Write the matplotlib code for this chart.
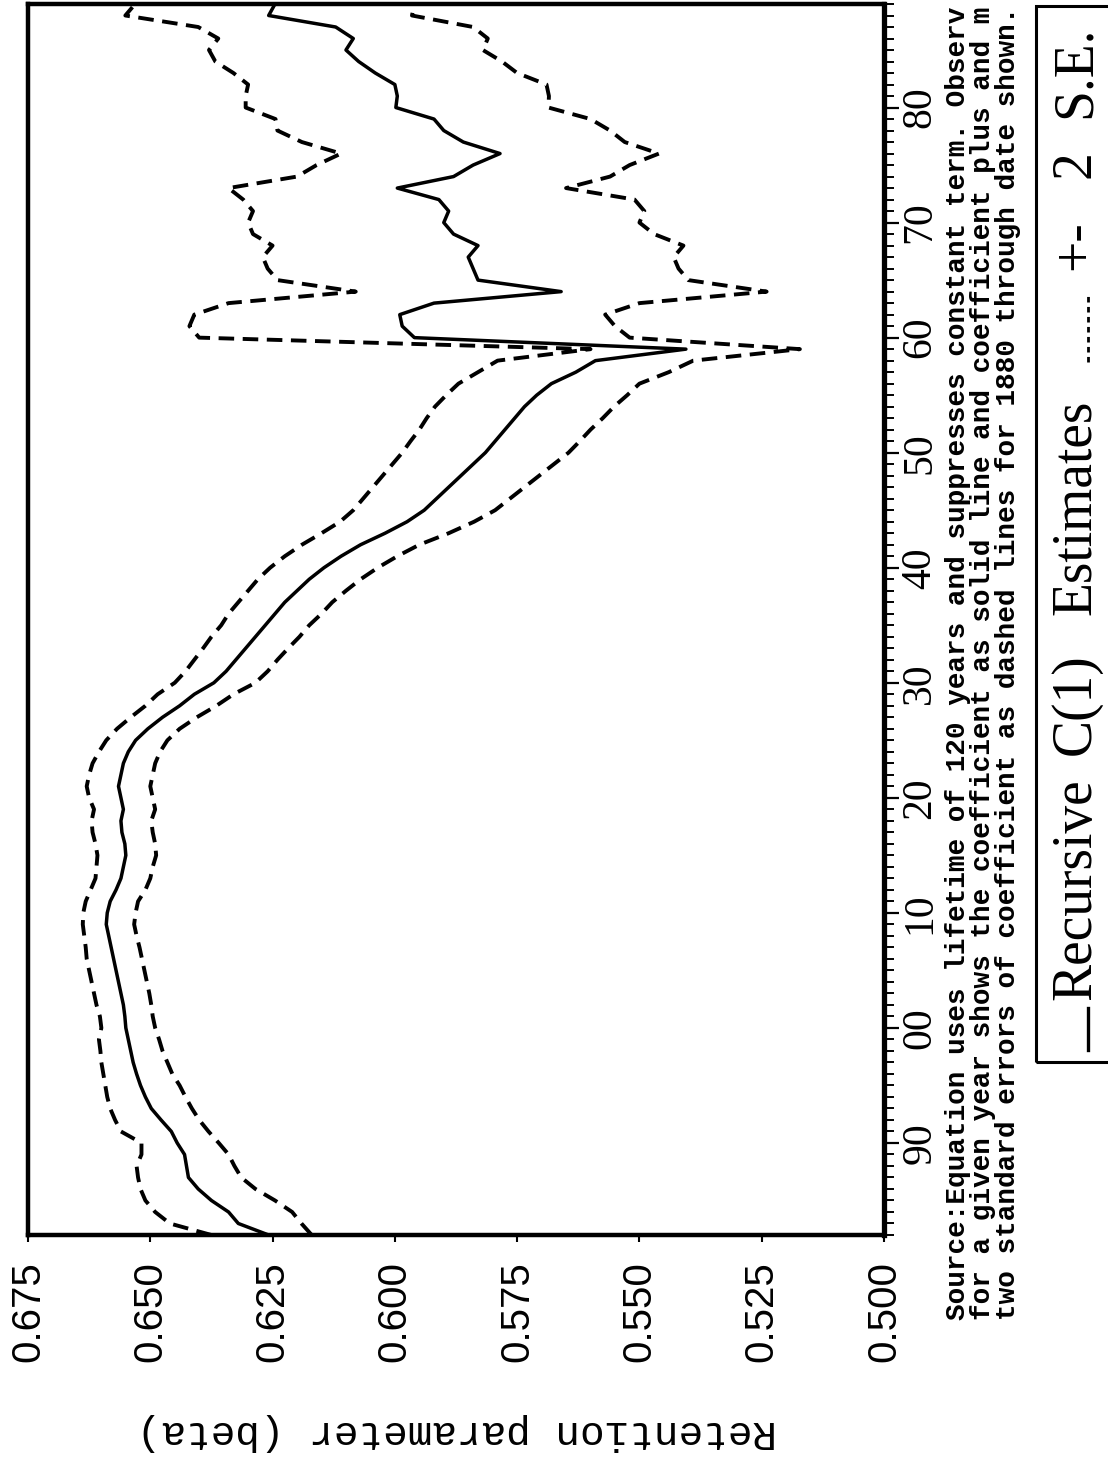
import numpy as np
import matplotlib.pyplot as plt
from matplotlib.lines import Line2D
from matplotlib.patches import Rectangle
from matplotlib.ticker import MultipleLocator

# recursive estimates of the retention parameter, one value per year
years = list(range(1882, 1990))

beta = [
    .6258, .6320, .6340, .6375, .6402, .6422, .6426, .6430, .6445, .6457,  # 1882-91
    .6478, .6498, .6510, .6520, .6528, .6535, .6540, .6545, .6550, .6552,  # 1892-01
    .6555, .6560, .6565, .6570, .6575, .6580, .6585, .6590, .6588, .6582,  # 1902-11
    .6570, .6560, .6555, .6550, .6552, .6558, .6560, .6555, .6560, .6565,  # 1912-21
    .6560, .6555, .6545, .6530, .6505, .6475, .6440, .6410, .6370, .6345,  # 1922-31
    .6325, .6305, .6285, .6265, .6245, .6225, .6200, .6175, .6145, .6110,  # 1932-41
    .6070, .6020, .5975, .5940, .5915, .5890, .5865, .5840, .5815, .5795,  # 1942-51
    .5775, .5755, .5735, .5710, .5680, .5630, .5590, .5405, .5960, .5985,  # 1952-61
    .5990, .5920, .5660, .5830, .5840, .5850, .5830, .5880, .5900, .5890,  # 1962-71
    .5910, .5995, .5880, .5840, .5785, .5860, .5900, .5920, .5998, .5995,  # 1972-81
    .6000, .6040, .6074, .6100, .6085, .6121, .6258, .6245,                # 1982-89
]

beta_hi = [
    .6375, .6460, .6490, .6510, .6520, .6525, .6528, .6518, .6518, .6560,
    .6572, .6582, .6588, .6592, .6596, .6600, .6602, .6605, .6600, .6603,
    .6610, .6615, .6620, .6625, .6630, .6632, .6635, .6638, .6637, .6632,
    .6622, .6612, .6610, .6608, .6612, .6618, .6620, .6615, .6625, .6630,
    .6625, .6618, .6605, .6590, .6568, .6540, .6510, .6485, .6450, .6428,
    .6410, .6392, .6375, .6355, .6340, .6320, .6300, .6280, .6255, .6225,
    .6190, .6150, .6112, .6085, .6065, .6045, .6025, .6005, .5985, .5968,
    .5950, .5935, .5918, .5895, .5870, .5830, .5790, .5600, .6400, .6420,
    .6410, .6340, .6080, .6240, .6260, .6270, .6250, .6290, .6300, .6290,
    .6310, .6340, .6200, .6160, .6110, .6190, .6240, .6244, .6305, .6305,
    .6300, .6330, .6367, .6380, .6361, .6402, .6551, .6531,
]

beta_lo = [
    .6170, .6191, .6210, .6245, .6285, .6314, .6328, .6340, .6360, .6381,
    .6400, .6415, .6428, .6440, .6455, .6465, .6475, .6482, .6490, .6495,
    .6498, .6502, .6507, .6512, .6517, .6522, .6528, .6533, .6530, .6525,
    .6510, .6500, .6495, .6488, .6490, .6495, .6498, .6490, .6495, .6500,
    .6495, .6490, .6480, .6465, .6440, .6405, .6365, .6330, .6285, .6260,
    .6240, .6218, .6195, .6175, .6150, .6128, .6100, .6070, .6035, .5995,
    .5950, .5890, .5838, .5795, .5765, .5735, .5705, .5675, .5645, .5622,
    .5600, .5575, .5552, .5525, .5500, .5440, .5390, .5172, .5520, .5550,
    .5570, .5500, .5240, .5400, .5420, .5430, .5410, .5470, .5500, .5490,
    .5510, .5650, .5560, .5520, .5460, .5530, .5560, .5600, .5686, .5685,
    .5690, .5750, .5781, .5820, .5810, .5840, .5965, .5960,
]

val_ticks = [0.675, 0.650, 0.625, 0.600, 0.575, 0.550, 0.525, 0.500]
val_labels = ['0.675', '0.650', '0.625', '0.600', '0.575', '0.550', '0.525', '0.500']
year_ticks = [1890, 1900, 1910, 1920, 1930, 1940, 1950, 1960, 1970, 1980]
year_labels = ['90', '00', '10', '20', '30', '40', '50', '60', '70', '80']

# the footnote runs off the top of the page
source_lines = [
    "Source:Equation uses lifetime of 120 years and suppresses constant term. Observ",
    "for a given year shows the coefficient as solid line and coefficient plus and m",
    "two standard errors of coefficient as dashed lines for 1880 through date shown.",
]

W, H = 1108, 1473
fig = plt.figure(figsize=(W / 100, H / 100), dpi=100)


def fx(px):
    return px / W


def fy(py):
    return 1 - py / H


# page is turned on its side: beta runs across, years run up
ax = fig.add_axes([fx(28), fy(1235), fx(884) - fx(28), fy(4) - fy(1235)])
dash = (0, (4, 2.2))
ax.plot(beta, years, color='black', lw=2.5)
ax.plot(beta_hi, years, color='black', lw=2.8, ls=dash)
ax.plot(beta_lo, years, color='black', lw=2.8, ls=dash)

ax.set_xlim(0.675, 0.500)
ax.set_ylim(1882, 1989)

for side in ['left', 'top', 'bottom']:
    ax.spines[side].set_linewidth(3.2)
ax.spines['right'].set_linewidth(3.8)

ax.set_xticks(val_ticks)
ax.set_xticklabels(val_labels, rotation=90, fontsize=29, family='Liberation Sans')
ax.tick_params(axis='x', direction='out', length=5, width=1.5, pad=14)

ax.yaxis.tick_right()
ax.set_yticks(year_ticks)
ax.set_yticklabels(year_labels, rotation=90, va='center', fontsize=30,
                   family='Liberation Serif')
ax.yaxis.set_minor_locator(MultipleLocator(1))
ax.tick_params(axis='y', which='major', direction='out', length=11, width=1.6, pad=1)
ax.tick_params(axis='y', which='minor', direction='out', length=7, width=1.4)

# axis title, upside down along the bottom
fig.text(fx(457), fy(1432), 'Retention parameter (beta)', rotation=180,
         ha='center', va='center', fontsize=29.5, family='Liberation Mono')

# footnote, three lines reading upwards
for i, line in enumerate(source_lines):
    fig.text(fx(958 + 25 * i), fy(1320), line, rotation=90, ha='center', va='bottom',
             fontsize=20, family='Liberation Mono', fontweight='bold')

# legend box on the right edge
box = Rectangle((fx(1036), fy(1062)), fx(1125) - fx(1036), fy(6) - fy(1062),
                transform=fig.transFigure, fill=False, lw=2.2, ec='black', clip_on=False)
fig.patches.append(box)
lx = fx(1088)
fig.lines.append(Line2D([lx, lx], [fy(1050), fy(1008)],
                        transform=fig.transFigure, color='black', lw=2.4))
fig.lines.append(Line2D([lx, lx], [fy(362), fy(296)],
                        transform=fig.transFigure, color='black', lw=2.0, ls=(0, (2, 1.6))))
legend_words = [('Recursive', 1000), ('C(1)', 755), ('Estimates', 615),
                ('+-', 270), ('2', 178), ('S.E.', 118)]
for word, ybot in legend_words:
    fig.text(fx(1076), fy(ybot), word, rotation=90, ha='center', va='bottom',
             fontsize=40, family='Liberation Serif')

fig.savefig('out.png', dpi=100)
